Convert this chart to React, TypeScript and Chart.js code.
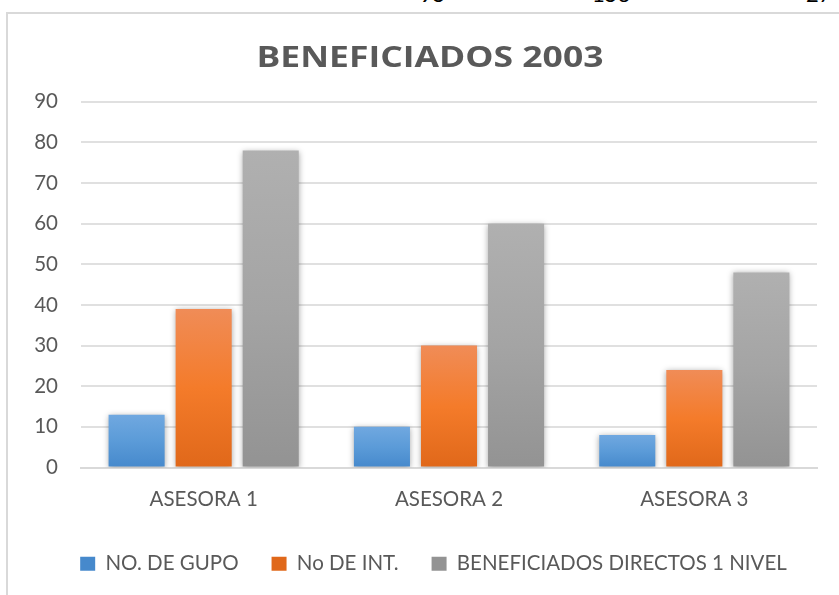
import React, { useEffect, useRef } from "react";
import { Chart, registerables } from "chart.js";

Chart.register(...registerables);

const titleText = "BENEFICIADOS 2003";
const categories = ["ASESORA 1", "ASESORA 2", "ASESORA 3"];
const seriesNames = ["NO. DE GUPO", "No DE INT.", "BENEFICIADOS DIRECTOS 1 NIVEL"];
const grupos = [13, 10, 8];
const integrantes = [39, 30, 24];
const beneficiados = [78, 60, 48];
const yMin = 0;
const yMax = 90;
const yStep = 10;
const clippedNumbers = ["95", "156", "27"];

const FONT = "Lato, 'Open Sans', sans-serif";
const TITLE_FONT = "'Open Sans', Lato, sans-serif";
const TEXT = "#595959";

const palettes = [
  { solid: "#5b9bd5", stops: ["#70a8e0", "#5b9bd8", "#4689cc"] },
  { solid: "#ed7d31", stops: ["#f08c57", "#f47b2a", "#e0681a"] },
  { solid: "#a5a5a5", stops: ["#b0b0b0", "#a4a4a4", "#939393"] },
];

function gradientFor(idx: number) {
  return (ctx: any) => {
    const p = palettes[idx];
    if (ctx.type !== "data") return p.solid;
    const chart = ctx.chart;
    const y = chart.scales && chart.scales.y;
    const v = ctx.raw;
    if (!y || v == null) return p.solid;
    const top = y.getPixelForValue(v);
    const bottom = y.getPixelForValue(0);
    if (!isFinite(top) || !isFinite(bottom) || top === bottom) return p.solid;
    const g = chart.ctx.createLinearGradient(0, top, 0, bottom);
    g.addColorStop(0, p.stops[0]);
    g.addColorStop(0.5, p.stops[1]);
    g.addColorStop(1, p.stops[2]);
    return g;
  };
}

const shadowPlugin = {
  id: "barShadow",
  beforeDatasetsDraw(chart: any) {
    const c = chart.ctx;
    c.save();
    c.shadowColor = "rgba(0,0,0,0.35)";
    c.shadowBlur = 6;
    c.shadowOffsetX = 0;
    c.shadowOffsetY = 1;
  },
  afterDatasetsDraw(chart: any) {
    chart.ctx.restore();
  },
};

const legendShiftPlugin = {
  id: "legendShift",
  afterLayout(chart: any) {
    const lg = chart.legend;
    if (lg) {
      lg.left += 25;
      lg.right += 25;
    }
  },
};

export default function App() {
  const canvasRef = useRef<HTMLCanvasElement | null>(null);

  useEffect(() => {
    if (!canvasRef.current) return;
    const seriesValues = [grupos, integrantes, beneficiados];
    const chart = new Chart(canvasRef.current, {
      type: "bar",
      data: {
        labels: categories,
        datasets: seriesNames.map((name, i) => ({
          label: name,
          data: seriesValues[i],
          backgroundColor: gradientFor(i),
          borderWidth: 0,
          categoryPercentage: 0.82,
          barPercentage: 0.836,
        })),
      },
      plugins: [shadowPlugin, legendShiftPlugin],
      options: {
        responsive: false,
        animation: false,
        events: [],
        layout: { padding: { top: 0, left: 0, right: 22, bottom: 11 } },
        plugins: {
          tooltip: { enabled: false },
          title: {
            display: true,
            text: titleText,
            color: TEXT,
            font: { family: TITLE_FONT, size: 29, weight: "bold" },
            padding: { top: 41, bottom: 26 },
          },
          legend: {
            position: "bottom",
            labels: {
              color: TEXT,
              font: { family: FONT, size: 20.5 },
              boxWidth: 15,
              boxHeight: 14,
              padding: 33,
            },
          },
        },
        scales: {
          x: {
            grid: { display: false, drawTicks: false },
            border: { display: true, color: "#d9d9d9", width: 2 },
            ticks: { color: TEXT, font: { family: FONT, size: 20.5 }, padding: 20 },
            afterFit(s: any) {
              s.height = 53;
            },
          },
          y: {
            min: yMin,
            max: yMax,
            ticks: { stepSize: yStep, color: TEXT, font: { family: FONT, size: 20.5 }, padding: 23 },
            grid: { color: "#e0e0e0", lineWidth: 2, drawTicks: false },
            border: { display: false },
            afterFit(s: any) {
              s.width = 81;
            },
          },
        },
      },
    });
    const tb = (chart as any).titleBlock;
    if (tb) {
      const orig = tb.draw.bind(tb);
      tb.draw = (area: any) => {
        const c: any = chart.ctx;
        c.save();
        c.font = `bold 29px ${TITLE_FONT}`;
        const w = c.measureText(titleText).width || 1;
        const s = 347 / w;
        const cx0 = (tb.left + tb.right) / 2;
        const cx1 = 430;
        c.translate(cx1, 0);
        c.scale(s, 1);
        c.translate(-cx0, 0);
        orig(area);
        c.restore();
      };
      chart.draw();
    }
    return () => chart.destroy();
  }, []);

  const numLefts = [420, 592, 806];

  return (
    <div style={{ position: "fixed", left: 0, top: 0, width: 839, height: 595, overflow: "hidden", background: "#fff" }}>
      {clippedNumbers.map((n, i) => (
        <div
          key={n}
          style={{ position: "absolute", left: numLefts[i], top: -17, fontFamily: FONT, fontSize: 22, lineHeight: "22px", color: "#000" }}
        >
          {n}
        </div>
      ))}
      <div
        style={{ position: "absolute", left: 6, top: 12, width: 900, height: 700, border: "2px solid #d9d9d9", boxSizing: "border-box" }}
      />
      <canvas ref={canvasRef} width={839} height={595} style={{ position: "absolute", left: 0, top: 0, width: 839, height: 595 }} />
    </div>
  );
}
